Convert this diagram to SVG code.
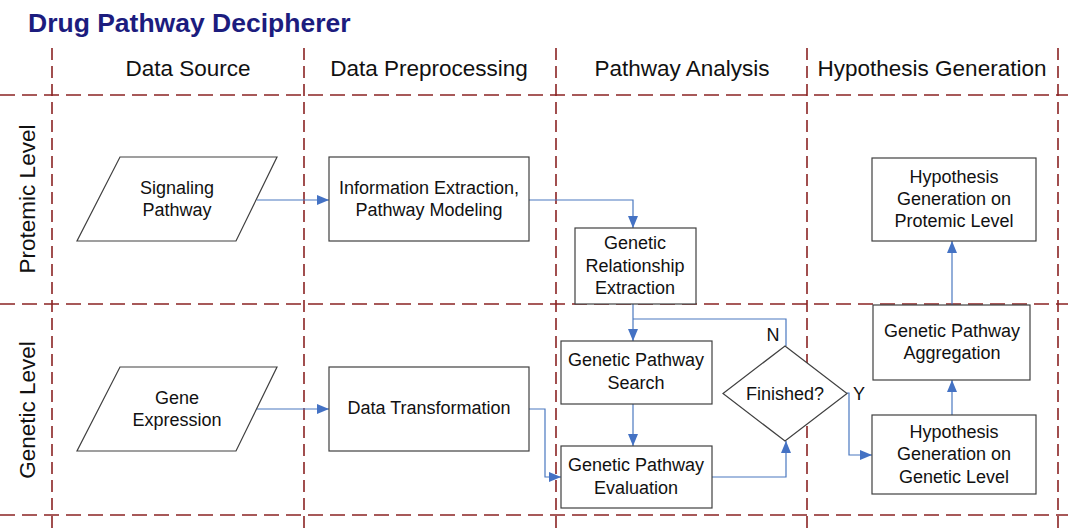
<svg xmlns="http://www.w3.org/2000/svg" width="1068" height="532" viewBox="0 0 1068 532">
<defs>
<style>
.grid{stroke:#8B2323;stroke-width:1.6;fill:none}
.v{stroke-dasharray:12 6}
.h{stroke-dasharray:15 7}
.box{fill:#fff;stroke:#404040;stroke-width:1.2}
.t{font-family:"Liberation Sans",Arial,sans-serif;font-size:18px;fill:#111;text-anchor:middle}
.hd{font-family:"Liberation Sans",Arial,sans-serif;font-size:22.5px;fill:#111;text-anchor:middle}
.c{stroke:#4A78C0;stroke-width:1.2;fill:none;marker-end:url(#ah)}
.cl{stroke:#4A78C0;stroke-width:1.2;fill:none}
</style>
<marker id="ah" viewBox="0 0 12 10" refX="12" refY="5" markerWidth="12" markerHeight="10" markerUnits="userSpaceOnUse" orient="auto">
<path d="M0,0 L12,5 L0,10 z" fill="#4472C4"/>
</marker>
</defs>
<rect width="1068" height="532" fill="#fff"/>
<text x="28" y="32" font-family="'Liberation Sans',Arial,sans-serif" font-size="26.5" font-weight="bold" fill="#1C1C7E">Drug Pathway Decipherer</text>
<g id="grid">
<line class="grid h" x1="0" y1="95" x2="1068" y2="95"/>
<line class="grid h" x1="0" y1="304" x2="1068" y2="304"/>
<line class="grid h" x1="0" y1="515" x2="1068" y2="515"/>
<line class="grid v" x1="52" y1="48" x2="52" y2="532"/>
<line class="grid v" x1="304" y1="48" x2="304" y2="532"/>
<line class="grid v" x1="556" y1="48" x2="556" y2="532"/>
<line class="grid v" x1="807" y1="48" x2="807" y2="532"/>
<line class="grid v" x1="1058" y1="48" x2="1058" y2="532"/>
</g>
<g id="headers">
<text class="hd" x="188" y="76">Data Source</text>
<text class="hd" x="429" y="76">Data Preprocessing</text>
<text class="hd" x="682" y="76">Pathway Analysis</text>
<text class="hd" x="932" y="76">Hypothesis Generation</text>
<text class="hd" transform="translate(35,199) rotate(-90)">Protemic Level</text>
<text class="hd" transform="translate(35,410) rotate(-90)">Genetic Level</text>
</g>
<g id="connectors">
<path class="c" d="M257,200 H329"/>
<path class="c" d="M529,200 H633 V228"/>
<path class="c" d="M633,304 V341"/>
<path class="cl" d="M633,319 H786 V346"/>
<path class="c" d="M633,404 V446"/>
<path class="c" d="M712,477 H786 V441"/>
<path class="c" d="M847,393 H849 V455 H872"/>
<path class="c" d="M257,409 H329"/>
<path class="c" d="M529,409 H545 V477 H561"/>
<path class="c" d="M952,415 V380"/>
<path class="c" d="M952,305 V241"/>
<text class="t" x="773" y="341">N</text>
<text class="t" x="859" y="400">Y</text>
</g>
<g id="signaling">
<polygon class="box" points="120,157 277,157 236,241 77,241"/>
<text class="t" x="177" y="194">Signaling</text>
<text class="t" x="177" y="216">Pathway</text>
</g>
<g id="info-extraction">
<rect class="box" x="329" y="157" width="200" height="84"/>
<text class="t" x="429" y="194">Information Extraction,</text>
<text class="t" x="429" y="216">Pathway Modeling</text>
</g>
<g id="relationship">
<rect class="box" x="575" y="228" width="121" height="76"/>
<text class="t" x="635" y="249">Genetic</text>
<text class="t" x="635" y="272">Relationship</text>
<text class="t" x="635" y="294">Extraction</text>
</g>
<g id="search">
<rect class="box" x="561" y="341" width="151" height="63"/>
<text class="t" x="636" y="366">Genetic Pathway</text>
<text class="t" x="636" y="389">Search</text>
</g>
<g id="evaluation">
<rect class="box" x="561" y="446" width="151" height="62"/>
<text class="t" x="636" y="471">Genetic Pathway</text>
<text class="t" x="636" y="494">Evaluation</text>
</g>
<g id="finished">
<polygon class="box" points="785,346 847,393.5 785,441 723,393.5"/>
<text class="t" x="785" y="400">Finished?</text>
</g>
<g id="gene-expression">
<polygon class="box" points="120,367 277,367 236,451 77,451"/>
<text class="t" x="177" y="404">Gene</text>
<text class="t" x="177" y="426">Expression</text>
</g>
<g id="transformation">
<rect class="box" x="329" y="367" width="200" height="84"/>
<text class="t" x="429" y="414">Data Transformation</text>
</g>
<g id="hyp-genetic">
<rect class="box" x="872" y="415" width="164" height="79"/>
<text class="t" x="954" y="438">Hypothesis</text>
<text class="t" x="954" y="460">Generation on</text>
<text class="t" x="954" y="483">Genetic Level</text>
</g>
<g id="aggregation">
<rect class="box" x="873" y="305" width="157" height="75"/>
<text class="t" x="952" y="337">Genetic Pathway</text>
<text class="t" x="952" y="359">Aggregation</text>
</g>
<g id="hyp-protemic">
<rect class="box" x="872" y="158" width="164" height="83"/>
<text class="t" x="954" y="183">Hypothesis</text>
<text class="t" x="954" y="205">Generation on</text>
<text class="t" x="954" y="227">Protemic Level</text>
</g>
</svg>
